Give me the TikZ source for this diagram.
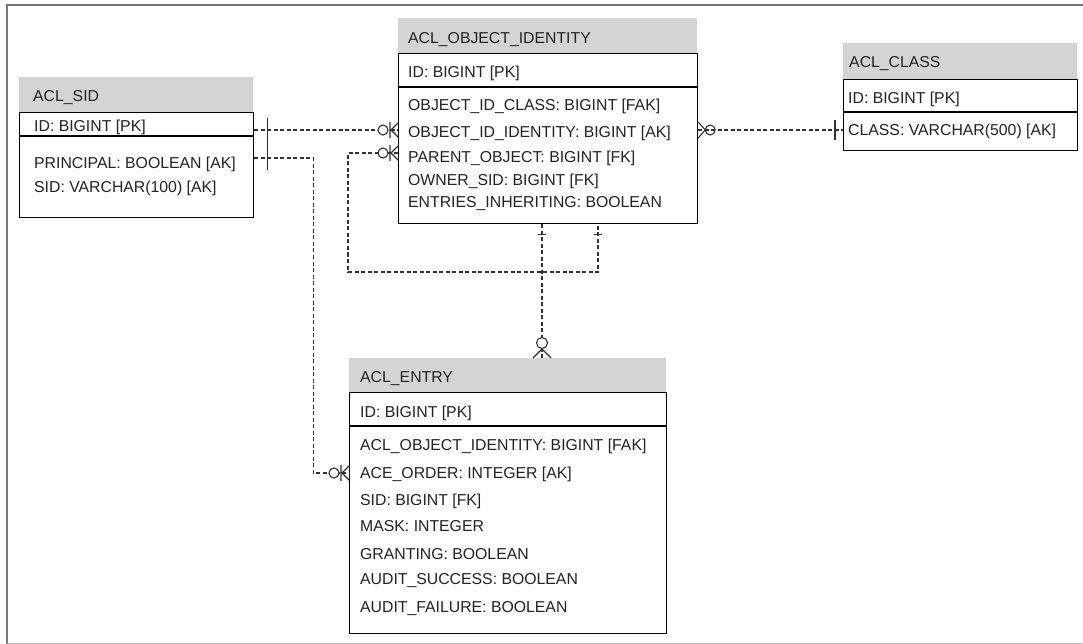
\documentclass[tikz,border=0pt]{standalone}
\usepackage{fontspec}
\setmainfont{Liberation Sans}
\definecolor{hdrgray}{RGB}{212,212,212}
\definecolor{txtgray}{RGB}{35,35,35}
\definecolor{conngray}{RGB}{50,50,50}
\definecolor{framegray}{RGB}{120,120,120}
\definecolor{framelight}{RGB}{190,190,190}
\begin{document}
\begin{tikzpicture}[x=1pt,y=-1pt,
  hdr/.style={fill=hdrgray, draw=none, inner sep=0pt, anchor=north west},
  tbox/.style={draw=black, line width=1.2pt, fill=white, inner sep=0pt, anchor=north west},
  sepline/.style={line width=1.8pt, draw=black},
  txt/.style={anchor=base west, inner sep=0pt, font=\fontsize{15.8}{18}\selectfont, text=txtgray},
  conn/.style={dash pattern=on 4pt off 2.5pt, line width=1.2pt, draw=conngray},
  mk/.style={line width=1.1pt, draw=conngray, solid},
  manyL/.pic={\draw[mk] (-7,0) -- (0,-7) (-7,0) -- (0,7) (-8,-8) -- (-8,8);
              \draw[mk, fill=white] (-15,0) circle (5pt);},
  manyR/.pic={\draw[mk] (0,-8) -- (7,0) -- (0,8);
              \draw[mk] (12,0) circle (5pt);},
  manyT/.pic={\draw[mk] (-9,0) -- (0,-9) -- (9,0);
              \draw[mk, fill=white] (0,-15) circle (5.5pt);}
]
\useasboundingbox (0,0) rectangle (1083,644);
% frame
\draw[line width=2pt, framegray] (7,644) -- (7,5) -- (1083,5);
\draw[line width=1pt, framelight] (7,643) -- (1083,643);

% ---------- ACL_SID ----------
\node[hdr, minimum width=234pt, minimum height=35pt] (sidH) at (19,77) {};
\node[tbox, minimum width=234pt, minimum height=105pt] (sidB) at (19,112) {};
\draw[sepline] ([yshift=-24pt]sidB.north west) -- ([yshift=-24pt]sidB.north east);
\node[txt] (sidT) at (33,101.6) {ACL\_SID};
\node[txt] (sidR1) at (34,131.6) {ID: BIGINT [PK]};
\node[txt] (sidR2) at (34,168.6) {PRINCIPAL: BOOLEAN [AK]};
\node[txt] (sidR3) at (34,192.6) {SID: VARCHAR(100) [AK]};

% ---------- ACL_OBJECT_IDENTITY ----------
\node[hdr, minimum width=299pt, minimum height=35pt] (objH) at (398,18) {};
\node[tbox, minimum width=299pt, minimum height=170pt] (objB) at (398,53) {};
\draw[sepline] ([yshift=-34pt]objB.north west) -- ([yshift=-34pt]objB.north east);
\node[txt] (objT) at (408,43.9) {ACL\_OBJECT\_IDENTITY};
\node[txt] (objR1) at (408,77.4) {ID: BIGINT [PK]};
\node[txt] (objR2) at (408,110.6) {OBJECT\_ID\_CLASS: BIGINT [FAK]};
\node[txt] (objR3) at (408,137.4) {OBJECT\_ID\_IDENTITY: BIGINT [AK]};
\node[txt] (objR4) at (408,162.4) {PARENT\_OBJECT: BIGINT [FK]};
\node[txt] (objR5) at (408,185.6) {OWNER\_SID: BIGINT [FK]};
\node[txt] (objR6) at (408,207.4) {ENTRIES\_INHERITING: BOOLEAN};

% ---------- ACL_CLASS ----------
\node[hdr, minimum width=234pt, minimum height=36pt] (clsH) at (843,43) {};
\node[tbox, minimum width=234pt, minimum height=71pt] (clsB) at (843,79) {};
\draw[sepline] ([yshift=-33pt]clsB.north west) -- ([yshift=-33pt]clsB.north east);
\node[txt] (clsT) at (849,67.6) {ACL\_CLASS};
\node[txt] (clsR1) at (848,103.6) {ID: BIGINT [PK]};
\node[txt] (clsR2) at (848,135.6) {CLASS: VARCHAR(500) [AK]};

% ---------- ACL_ENTRY ----------
\node[hdr, minimum width=317pt, minimum height=34pt] (entH) at (349,358) {};
\node[tbox, minimum width=317pt, minimum height=241pt] (entB) at (349,392) {};
\draw[sepline] ([yshift=-34pt]entB.north west) -- ([yshift=-34pt]entB.north east);
\node[txt] (entT) at (360,382.6) {ACL\_ENTRY};
\node[txt] (entR1) at (360,417.6) {ID: BIGINT [PK]};
\node[txt] (entR2) at (360,450.6) {ACL\_OBJECT\_IDENTITY: BIGINT [FAK]};
\node[txt] (entR3) at (360,478.6) {ACE\_ORDER: INTEGER [AK]};
\node[txt] (entR4) at (360,505.6) {SID: BIGINT [FK]};
\node[txt] (entR5) at (360,531.6) {MASK: INTEGER};
\node[txt] (entR6) at (360,559.6) {GRANTING: BOOLEAN};
\node[txt] (entR7) at (360,584.6) {AUDIT\_SUCCESS: BOOLEAN};
\node[txt] (entR8) at (360,612.6) {AUDIT\_FAILURE: BOOLEAN};

% ---------- connector end points ----------
\coordinate (sidPK) at ([yshift=-18pt]sidB.north east);
\coordinate (sidAK) at ([yshift=-46pt]sidB.north east);
\coordinate (objL1) at ([yshift=-77pt]objB.north west);
\coordinate (objL2) at ([yshift=-100pt]objB.north west);
\coordinate (objR) at ([yshift=-77pt]objB.north east);
\coordinate (objB1) at ([xshift=144pt]objB.south west);
\coordinate (objB2) at ([xshift=200pt]objB.south west);
\coordinate (clsL) at ([yshift=-51pt]clsB.north west);
\coordinate (entL) at ([yshift=-81pt]entB.north west);
\coordinate (entTop) at ([xshift=193pt]entH.north west);

% ---------- connectors ----------
\draw[conn] (sidPK) -- (objL1);
\draw[conn] (sidAK) -- ++(59,0) |- (entL);
\draw[conn] (objL2) -- ++(-50,0) -- ++(0,119) -| (objB2);
\draw[conn] (objB1) -- (entTop);
\draw[conn] (objR) -- (clsL);

% ---------- end marks ----------
\draw[mk, shift={(sidPK)}] (13,-12) -- (13,14);
\draw[mk, shift={(sidAK)}] (13,-14) -- (13,12);
\draw[mk, shift={(clsL)}] (-8,-10) -- (-8,10);
\draw[mk, shift={(objB1)}] (-4,10) -- (4,10);
\draw[mk, shift={(objB2)}] (-4,10) -- (4,10);
\pic at (objL1) {manyL};
\pic at (objL2) {manyL};
\pic at (entL) {manyL};
\pic at (objR) {manyR};
\pic at (entTop) {manyT};
\end{tikzpicture}
\end{document}
